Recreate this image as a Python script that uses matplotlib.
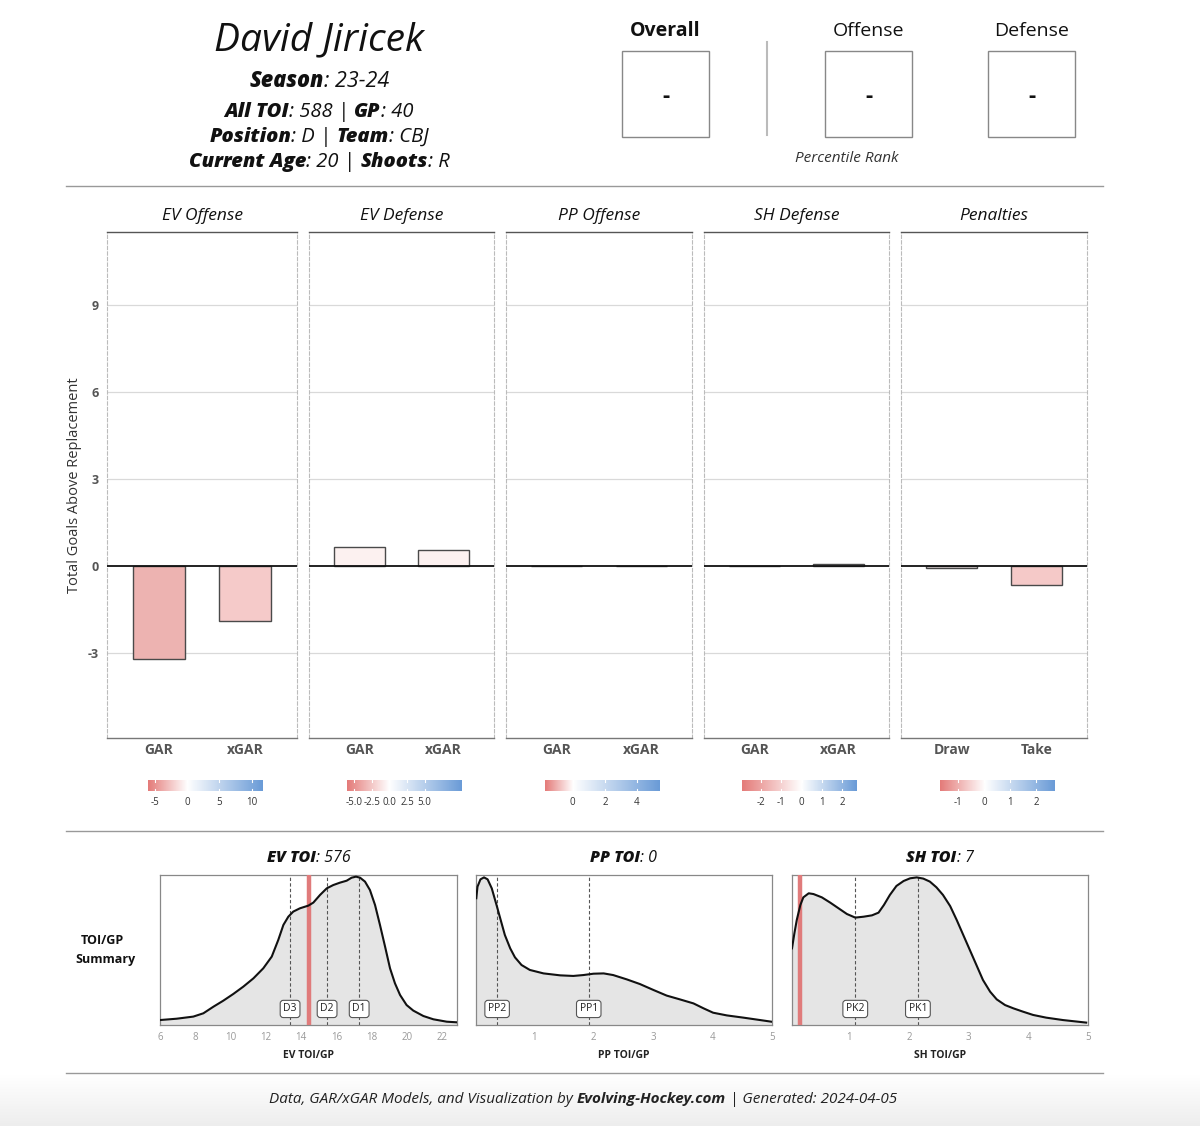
import numpy as np
import matplotlib
matplotlib.use("Agg")
import matplotlib.pyplot as plt
from matplotlib import font_manager
from matplotlib.font_manager import FontProperties
from matplotlib.colors import LinearSegmentedColormap, TwoSlopeNorm
from matplotlib.patches import Rectangle
from matplotlib.lines import Line2D
from matplotlib.transforms import IdentityTransform

# ---------------- data ----------------
player = "David Jiricek"
season = "23-24"
all_toi = "588"
gp = "40"
position = "D"
team = "CBJ"
age = "20"
shoots = "R"
ranks = ["-", "-", "-"]
rank_titles = ["Overall", "Offense", "Defense"]

panels = ["EV Offense", "EV Defense", "PP Offense", "SH Defense", "Penalties"]
categories = [["GAR", "xGAR"], ["GAR", "xGAR"], ["GAR", "xGAR"], ["GAR", "xGAR"], ["Draw", "Take"]]
ev_offense = [-3.21, -1.90]
ev_defense = [0.66, 0.55]
pp_offense = [0.01, 0.01]
sh_defense = [-0.01, 0.08]
penalties = [-0.08, -0.65]
values = [ev_offense, ev_defense, pp_offense, sh_defense, penalties]
y_ticks = [-3, 0, 3, 6, 9]

cb_limits = [(-6.1, 11.7), (-6.0, 10.3), (-1.75, 5.4), (-2.95, 2.75), (-1.73, 2.7)]
cb_ticks = [[-5, 0, 5, 10], [-5, -2.5, 0, 2.5, 5], [0, 2, 4], [-2, -1, 0, 1, 2], [-1, 0, 1, 2]]
cb_ticklabels = [["-5", "0", "5", "10"], ["-5.0", "-2.5", "0.0", "2.5", "5.0"], ["0", "2", "4"],
                 ["-2", "-1", "0", "1", "2"], ["-1", "0", "1", "2"]]

# density summaries (curve, y as share of panel height)
ev_x = [6.00, 6.95, 7.89, 8.46, 9.03, 9.59, 10.16, 10.73, 11.30, 11.86, 12.34, 12.71, 13.00, 13.28,
        13.56, 13.94, 14.42, 14.70, 15.08, 15.46, 15.83, 16.21, 16.59, 16.87, 17.12, 17.35, 17.63,
        17.91, 18.20, 18.48, 18.77, 19.05, 19.33, 19.62, 19.99, 20.37, 20.94, 21.51, 22.27, 22.83]
ev_y = [0.033, 0.042, 0.056, 0.078, 0.122, 0.162, 0.207, 0.256, 0.311, 0.378, 0.456, 0.567, 0.667,
        0.722, 0.756, 0.778, 0.796, 0.816, 0.867, 0.911, 0.933, 0.949, 0.962, 0.982, 0.989, 0.982,
        0.956, 0.900, 0.800, 0.667, 0.522, 0.378, 0.278, 0.200, 0.133, 0.096, 0.060, 0.038, 0.022,
        0.018]
pp_x = [0.03, 0.05, 0.10, 0.16, 0.22, 0.29, 0.37, 0.44, 0.51, 0.60, 0.68, 0.79, 0.93, 1.16, 1.44,
        1.66, 1.83, 2.00, 2.17, 2.33, 2.56, 2.78, 3.01, 3.23, 3.45, 3.68, 3.85, 4.01, 4.24, 4.52,
        4.80, 4.99]
pp_y = [0.845, 0.922, 0.971, 0.984, 0.971, 0.911, 0.800, 0.700, 0.600, 0.511, 0.451, 0.400, 0.367,
        0.344, 0.331, 0.327, 0.333, 0.342, 0.344, 0.333, 0.304, 0.273, 0.233, 0.196, 0.171, 0.144,
        0.111, 0.082, 0.064, 0.049, 0.033, 0.022]
sh_x = [0.04, 0.08, 0.12, 0.18, 0.23, 0.32, 0.40, 0.54, 0.68, 0.82, 0.96, 1.10, 1.24, 1.38, 1.49,
        1.58, 1.68, 1.79, 1.91, 2.02, 2.13, 2.24, 2.35, 2.46, 2.57, 2.69, 2.80, 2.91, 3.02, 3.13,
        3.24, 3.36, 3.47, 3.61, 3.75, 3.91, 4.08, 4.30, 4.58, 4.97]
sh_y = [0.511, 0.611, 0.700, 0.800, 0.851, 0.878, 0.873, 0.851, 0.816, 0.778, 0.740, 0.716, 0.722,
        0.731, 0.749, 0.800, 0.867, 0.927, 0.960, 0.978, 0.984, 0.976, 0.956, 0.918, 0.867, 0.793,
        0.700, 0.600, 0.500, 0.400, 0.300, 0.222, 0.171, 0.133, 0.111, 0.089, 0.067, 0.049, 0.033,
        0.016]
toi_titles = ["EV TOI", "PP TOI", "SH TOI"]
toi_values = ["576", "0", "7"]
toi_xlabels = ["EV TOI/GP", "PP TOI/GP", "SH TOI/GP"]
player_toi_gp = [14.45, None, 0.18]
tier_names = [["D3", "D2", "D1"], ["PP2", "PP1"], ["PK2", "PK1"]]
tier_values = [[13.38, 15.48, 17.3], [0.38, 1.92], [1.10, 2.15]]
dens_ticks = [[6, 8, 10, 12, 14, 16, 18, 20, 22], [1, 2, 3, 4, 5], [1, 2, 3, 4, 5]]

# ---------------- styles ----------------
W, H = 1200, 1126
FONT = ["Open Sans", "DejaVu Sans"]
plt.rcParams["font.family"] = FONT

fig = plt.figure(figsize=(W / 100, H / 100), dpi=100)
fig.patch.set_facecolor("white")
renderer = fig.canvas.get_renderer()


def _wnum(w):
    if isinstance(w, (int, float)):
        return w
    return {"normal": 400, "regular": 400, "book": 400, "medium": 500, "semibold": 600,
            "demibold": 600, "bold": 700, "heavy": 800, "extra bold": 800, "black": 900}.get(str(w).lower(), 400)


def text_width(s, fp):
    t = fig.text(0, 0, "|" + s + "|", fontproperties=fp, transform=IdentityTransform())
    w1 = t.get_window_extent(renderer).width
    t.set_text("||")
    w2 = t.get_window_extent(renderer).width
    t.remove()
    return w1 - w2


def find_bold_italic(target=79.0):
    # pick a wide bold-italic face; "Season" at 14pt is ~79 px wide in the reference
    best, best_err = None, 1e9
    for rank, fam in enumerate(["Open Sans", "Noto Sans", "Lato", "Roboto", "Liberation Sans"]):
        for f in font_manager.fontManager.ttflist:
            if f.name != fam or f.style not in ("italic", "oblique") or _wnum(f.weight) < 600:
                continue
            if "cond" in f.fname.lower():
                continue
            try:
                w = text_width("Season", FontProperties(fname=f.fname, size=14))
            except Exception:
                continue
            err = abs(w - target) + rank * 2
            if err < best_err:
                best, best_err = f.fname, err
    return best


BI_FILE = find_bold_italic()


def props(size, weight, style, bi=True):
    if weight == "bold" and style == "italic" and bi and BI_FILE:
        return FontProperties(fname=BI_FILE, size=size)
    return FontProperties(family=FONT, weight=weight, style=style, size=size)


def fy(y):
    return 1 - y / H


def add_ax(x0, y0, x1, y1):
    return fig.add_axes([x0 / W, 1 - y1 / H, (x1 - x0) / W, (y1 - y0) / H])


def rich(xc, ybase, parts, size, color="#111111", bi=True):
    fps = [props(size, w, st, bi) for s, w, st in parts]
    widths = [text_width(s, fp) for (s, w, st), fp in zip(parts, fps)]
    x = xc - sum(widths) / 2
    for (s, w, st), wd, fp in zip(parts, widths, fps):
        fig.text(x, H - ybase, s, fontproperties=fp, color=color, ha="left", va="baseline",
                 transform=IdentityTransform())
        x += wd


# ---------------- header ----------------
fig.text(319 / W, fy(40), player, fontsize=28, fontstyle="italic", ha="center", va="center", color="#111")
rich(319, 87, [("Season", "bold", "italic"), (": " + season, "normal", "italic")], 15.5)
rich(319, 117, [("All TOI", "bold", "italic"), (": " + all_toi + " | ", "normal", "italic"),
                ("GP", "bold", "italic"), (": " + gp, "normal", "italic")], 14.5)
rich(319, 142, [("Position", "bold", "italic"), (": " + position + " | ", "normal", "italic"),
                ("Team", "bold", "italic"), (": " + team, "normal", "italic")], 14.5)
rich(319, 167, [("Current Age", "bold", "italic"), (": " + age + " | ", "normal", "italic"),
                ("Shoots", "bold", "italic"), (": " + shoots, "normal", "italic")], 14.5)

box_x = [622, 825, 988]
for i, (title, r) in enumerate(zip(rank_titles, ranks)):
    cx = box_x[i] + 43.5
    fig.text(cx / W, fy(31), title, fontsize=14, fontweight="bold" if i == 0 else "normal",
             ha="center", va="center", color="#111")
    fig.add_artist(Rectangle((box_x[i] / W, fy(137)), 87 / W, 86 / H, transform=fig.transFigure,
                             fc="white", ec="#888888", lw=1))
    fig.text(cx / W, fy(97), r, fontsize=16, fontweight="bold", ha="center", va="center", color="#111")
fig.add_artist(Line2D([767 / W, 767 / W], [fy(42), fy(135)], color="#BBBBBB", lw=1.5))
fig.text(847 / W, fy(158), "Percentile Rank", fontsize=11, fontstyle="italic", ha="center", va="center",
         color="#333")

for yy in [186, 831, 1073]:
    fig.add_artist(Line2D([66 / W, 1103 / W], [fy(yy), fy(yy)], color="#999999", lw=1))

# ---------------- main panels ----------------
cmap = LinearSegmentedColormap.from_list("rwb", ["#E47B79", "#FFFFFF", "#6A9BD7"])
bar_fills = [["#EDB3B1", "#F5CAC9"], ["#FCF1F0", "#FCF1F0"], ["#FFFFFF", "#FFFFFF"],
             ["#FFFFFF", "#F8F8FC"], ["#FBEDED", "#F5C9C8"]]
panel_x = [(107, 297), (309, 494), (506, 692), (704, 889), (901, 1087)]
for i, (name, cats, vals) in enumerate(zip(panels, categories, values)):
    x0, x1 = panel_x[i]
    ax = add_ax(x0, 232, x1, 738)
    ax.set_xlim(0.4, 2.6)
    ax.set_ylim(-5.93, 11.52)
    for yt in y_ticks:
        if yt != 0:
            ax.axhline(yt, color="#D9D9D9", lw=0.9, zorder=0)
    ax.bar([1, 2], vals, width=0.6, color=bar_fills[i], edgecolor="#4A4A4A", lw=1, zorder=2)
    ax.axhline(0, color="#111111", lw=1.3, zorder=3)
    ax.set_xticks([1, 2])
    ax.set_xticklabels(cats, fontsize=10, fontweight="bold", color="#555555")
    ax.tick_params(axis="x", length=0, pad=3.5)
    if i == 0:
        ax.set_yticks(y_ticks)
        ax.set_yticklabels([str(v) for v in y_ticks], fontsize=9, fontweight="bold", color="#555555")
        ax.tick_params(axis="y", length=0, pad=6)
        ax.set_ylabel("Total Goals Above Replacement", fontsize=10.5, color="#333", labelpad=4)
    else:
        ax.set_yticks([])
    ax.spines["top"].set_color("#555555")
    ax.spines["top"].set_linewidth(1)
    ax.spines["bottom"].set_color("#777777")
    ax.spines["bottom"].set_linewidth(1)
    for s in ["left", "right"]:
        ax.spines[s].set_color("#BBBBBB")
        ax.spines[s].set_linewidth(0.8)
        ax.spines[s].set_linestyle((0, (3, 2)))
    fig.text((x0 + x1) / 2 / W, fy(216), name, fontsize=12.5, fontstyle="italic", ha="center",
             va="center", color="#111")

    # colorbar
    vmin, vmax = cb_limits[i]
    cxc = (x0 + x1) / 2 + 3
    cax = add_ax(cxc - 57.5, 780, cxc + 57.5, 791)
    norm = TwoSlopeNorm(vcenter=0, vmin=vmin, vmax=vmax)
    grad = np.linspace(vmin, vmax, 300)[None, :]
    cax.imshow(grad, cmap=cmap, norm=norm, aspect="auto", extent=[vmin, vmax, 0, 1])
    for t in cb_ticks[i]:
        cax.plot([t, t], [0, 0.2], color="white", lw=0.8)
        cax.plot([t, t], [0.8, 1], color="white", lw=0.8)
    cax.set_xlim(vmin, vmax)
    cax.set_ylim(0, 1)
    cax.set_yticks([])
    cax.set_xticks(cb_ticks[i])
    cax.set_xticklabels(cb_ticklabels[i], fontsize=7, color="#333")
    cax.tick_params(axis="x", length=0, pad=4)
    for s in cax.spines.values():
        s.set_visible(False)

# ---------------- density summaries ----------------
fig.text(102 / W, fy(941), "TOI/GP", fontsize=9, fontweight="bold", ha="center", va="center", color="#111")
fig.text(105 / W, fy(960), "Summary", fontsize=9, fontweight="bold", ha="center", va="center", color="#111")

dens = [(ev_x, ev_y), (pp_x, pp_y), (sh_x, sh_y)]
dens_ax = [(160, 457), (476, 772), (792, 1088)]
dens_xlim = [(6.0, 22.85), (0.025, 5.0), (0.04, 5.0)]
for k, (xs, ys) in enumerate(dens):
    x0, x1 = dens_ax[k]
    ax = add_ax(x0, 875, x1, 1025)
    ax.fill_between(xs, 0, ys, color="#E5E5E5", lw=0, zorder=1)
    for nm, tv in zip(tier_names[k], tier_values[k]):
        ax.axvline(tv, color="#555555", lw=0.8, ls=(0, (3, 2)), zorder=2)
    ax.plot(xs, ys, color="#111111", lw=1.5, zorder=4, solid_joinstyle="round")
    if player_toi_gp[k] is not None:
        ax.axvline(player_toi_gp[k], color="#E07B7B", lw=3.2, zorder=3)
    for nm, tv in zip(tier_names[k], tier_values[k]):
        ax.text(tv, 0.107, nm, fontsize=7.5, ha="center", va="center", color="#222", zorder=5,
                bbox=dict(boxstyle="round,pad=0.3,rounding_size=0.3", fc="white", ec="#555555", lw=0.8))
    ax.set_xlim(*dens_xlim[k])
    ax.set_ylim(0, 1)
    ax.set_yticks([])
    ax.set_xticks(dens_ticks[k])
    ax.set_xticklabels([str(t) for t in dens_ticks[k]], fontsize=7, color="#999999")
    ax.tick_params(axis="x", length=0, pad=5)
    ax.set_xlabel(toi_xlabels[k], fontsize=7.5, fontweight="bold", color="#222", labelpad=5)
    for s in ax.spines.values():
        s.set_color("#888888")
        s.set_linewidth(0.9)
    rich((x0 + x1) / 2, 862, [(toi_titles[k], "bold", "italic"), (": " + toi_values[k], "normal", "italic")],
         11.5)

# ---------------- footer ----------------
gax = fig.add_axes([0, 0, 1, (H - 1075) / H], zorder=-5)
g = np.linspace(1.0, 0.93, 100)[:, None] * np.ones((1, 10))
gax.imshow(np.dstack([g, g, g]), aspect="auto", extent=[0, 1, 0, 1])
gax.set_axis_off()
rich(583, 1103, [("Data, GAR/xGAR Models, and Visualization by ", "normal", "italic"),
                 ("Evolving-Hockey.com", "bold", "italic"),
                 (" | Generated: 2024-04-05", "normal", "italic")], 11, color="#222", bi=False)

fig.savefig("out.png", dpi=100)
